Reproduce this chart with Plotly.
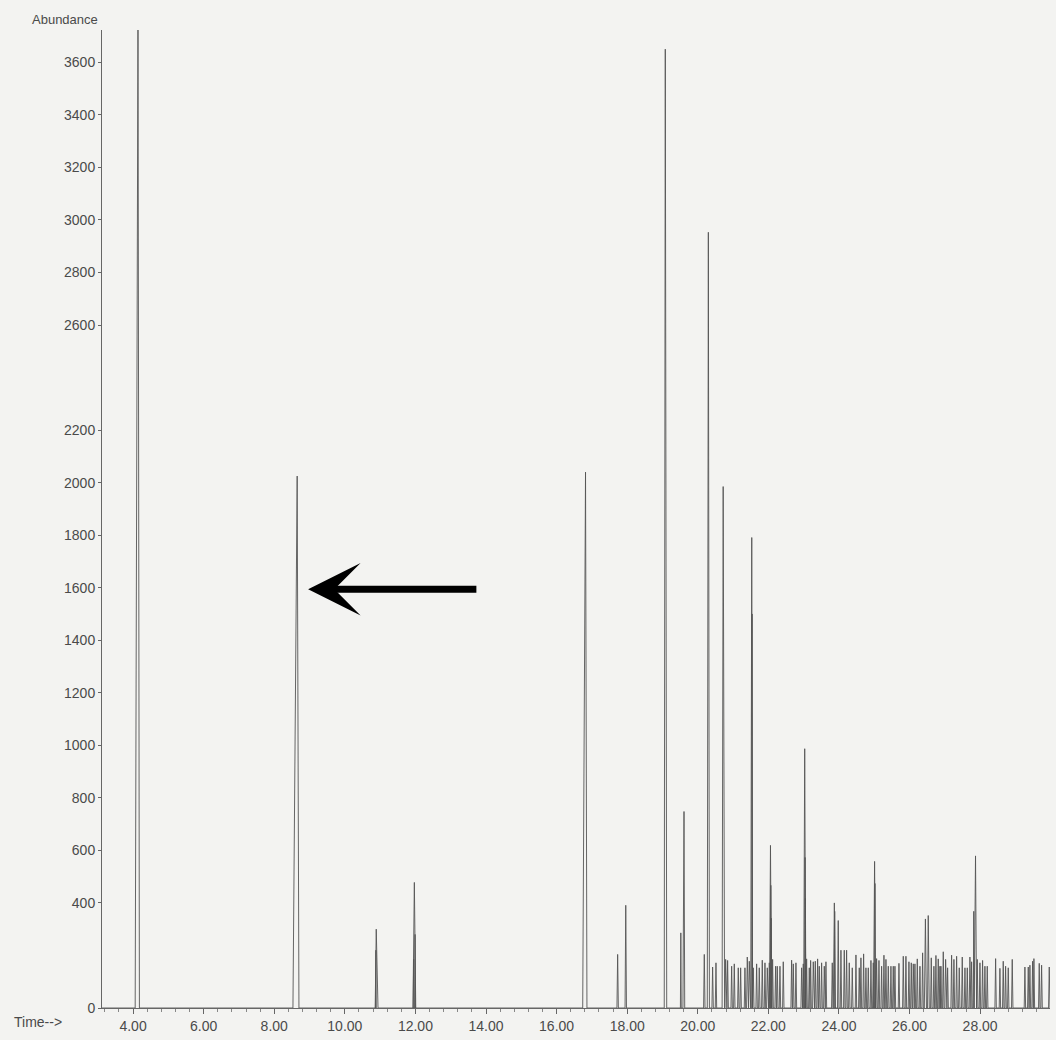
import plotly.graph_objects as go

# ---- Major chromatographic peaks (retention time in min, abundance) ----
peak_rt = [4.14, 8.65, 10.89, 11.97, 16.82, 17.73, 17.96, 19.08, 19.61, 20.30,
           20.72, 21.53, 22.06, 23.03, 23.87, 23.98, 25.01, 26.45, 26.53, 27.87]
peak_height = [3800, 2025, 300, 478, 2040, 204, 391, 3650, 748, 2953,
               1985, 1791, 619, 987, 400, 333, 558, 339, 352, 579]
peak_start = [4.06, 8.53, 10.86, 11.93, 16.74, 17.71, 17.94, 19.05, 19.58, 20.27,
              20.69, 21.50, 22.03, 23.00, 23.84, 23.96, 24.98, 26.42, 26.51, 27.83]
peak_end = [4.18, 8.70, 10.94, 12.01, 16.86, 17.75, 17.98, 19.12, 19.63, 20.33,
            20.76, 21.55, 22.09, 23.06, 23.90, 24.00, 25.04, 26.48, 26.56, 27.90]

# ---- Shoulder spikes on the sides of some peaks ----
shoulder_rt = [10.88, 11.95, 11.99, 19.52, 21.54, 22.07, 22.08, 23.04, 23.05, 23.88, 25.02, 27.82]
shoulder_height = [220, 186, 280, 286, 1500, 467, 342, 573, 417, 368, 474, 368]

# ---- Small noise spikes (20-30 min) ----
noise_rt = [20.185, 20.421, 20.516, 20.790, 20.846, 20.960, 21.035, 21.148, 21.215, 21.337,
            21.403, 21.460, 21.573, 21.668, 21.743, 21.828, 21.904, 21.970, 22.027, 22.121,
            22.206, 22.253, 22.329, 22.423, 22.659, 22.707, 22.782, 22.943, 22.990, 23.084,
            23.160, 23.198, 23.273, 23.330, 23.396, 23.443, 23.509, 23.585, 23.632, 23.811,
            24.057, 24.151, 24.217, 24.293, 24.378, 24.482, 24.576, 24.623, 24.699, 24.765,
            24.831, 24.907, 24.973, 25.067, 25.134, 25.209, 25.275, 25.332, 25.398, 25.473,
            25.539, 25.587, 25.700, 25.823, 25.898, 25.983, 26.050, 26.106, 26.153, 26.220,
            26.295, 26.371, 26.616, 26.691, 26.748, 26.814, 26.861, 26.890, 26.956, 27.022,
            27.079, 27.192, 27.258, 27.334, 27.409, 27.494, 27.570, 27.636, 27.711, 27.759,
            27.919, 27.995, 28.070, 28.136, 28.202, 28.439, 28.561, 28.655, 28.722, 28.797,
            28.910, 29.269, 29.364, 29.411, 29.487, 29.524, 29.675, 29.742, 29.959]
noise_height = [204, 156, 172, 185, 181, 159, 168, 153, 153, 153,
                194, 178, 153, 168, 153, 182, 172, 153, 172, 185,
                159, 159, 159, 176, 182, 168, 172, 153, 168, 187,
                153, 181, 176, 178, 187, 159, 172, 159, 176, 172,
                220, 220, 220, 172, 153, 202, 153, 191, 206, 153,
                153, 181, 172, 188, 181, 159, 201, 185, 159, 159,
                159, 159, 170, 197, 197, 176, 172, 168, 168, 187,
                159, 210, 191, 159, 200, 187, 159, 159, 214, 185,
                153, 201, 185, 197, 153, 194, 153, 153, 194, 176,
                185, 172, 181, 159, 159, 188, 151, 178, 159, 153,
                185, 156, 156, 163, 178, 188, 170, 163, 156]

x_range = [3.12, 29.98]
y_range = [0, 3723]
y_tickvals = [0, 400, 600, 800, 1000, 1200, 1400, 1600, 1800, 2000, 2200,
              2600, 2800, 3000, 3200, 3400, 3600]
arrow_tip = (8.96, 1594)
arrow_tail = (13.77, 1594)

# ---- build the trace (baseline with triangular peaks) ----
events = []
for s, a, e, h in zip(peak_start, peak_rt, peak_end, peak_height):
    events.append((a, [(s, 0), (a, h), (e, 0)]))
for a, h in zip(shoulder_rt, shoulder_height):
    events.append((a, [(a - 0.012, 0), (a, h), (a + 0.012, 0)]))
for a, h in zip(noise_rt, noise_height):
    events.append((a, [(a - 0.02, 0), (a, h), (a + 0.02, 0)]))
events.sort(key=lambda ev: ev[0])

xs = [x_range[0]]
ys = [0]
for _, pts in events:
    for px, py in pts:
        xs.append(px)
        ys.append(py)
xs.append(x_range[1])
ys.append(0)

font_fam = "Liberation Sans, Arial, sans-serif"
txt_col = "#4a4a4a"

fig = go.Figure()
fig.add_trace(go.Scatter(x=xs, y=ys, mode="lines",
                         line=dict(color="#555555", width=0.9),
                         hoverinfo="skip", showlegend=False))

fig.update_layout(
    width=1056, height=1040,
    margin=dict(l=102, r=6, t=30, b=28),
    paper_bgcolor="#f3f3f1",
    plot_bgcolor="#f3f3f1",
    font=dict(family=font_fam, size=14, color=txt_col),
    showlegend=False,
)
fig.update_xaxes(
    range=x_range, tick0=4, dtick=2, tickformat=".2f",
    showgrid=False, zeroline=False,
    showline=True, linecolor="#666", linewidth=1,
    ticks="outside", ticklen=5, tickcolor="#666",
    tickfont=dict(size=14, color=txt_col),
    minor=dict(tick0=4, dtick=0.4, ticks="outside", ticklen=3, tickcolor="#888"),
)
fig.update_yaxes(
    range=y_range, tickvals=y_tickvals,
    ticktext=[str(v) for v in y_tickvals],
    showgrid=False, zeroline=False,
    showline=True, linecolor="#666", linewidth=1,
    ticks="outside", ticklen=3, tickcolor="#666",
    tickfont=dict(size=14, color=txt_col),
)

fig.add_annotation(
    x=arrow_tip[0], y=arrow_tip[1], ax=arrow_tail[0], ay=arrow_tail[1],
    xref="x", yref="y", axref="x", ayref="y",
    text="", showarrow=True, arrowhead=3, arrowsize=1.25,
    arrowwidth=7, arrowcolor="#000000",
)
fig.add_annotation(
    text="Time-->", xref="paper", yref="paper", x=-0.095, y=0,
    xanchor="left", yanchor="top", yshift=-4, showarrow=False,
    font=dict(size=14, color=txt_col),
)
fig.add_annotation(
    text="Abundance", xref="paper", yref="paper", x=-0.076, y=1,
    xanchor="left", yanchor="bottom", yshift=1, showarrow=False,
    font=dict(size=13, color=txt_col),
)

fig.write_html("out.html")
